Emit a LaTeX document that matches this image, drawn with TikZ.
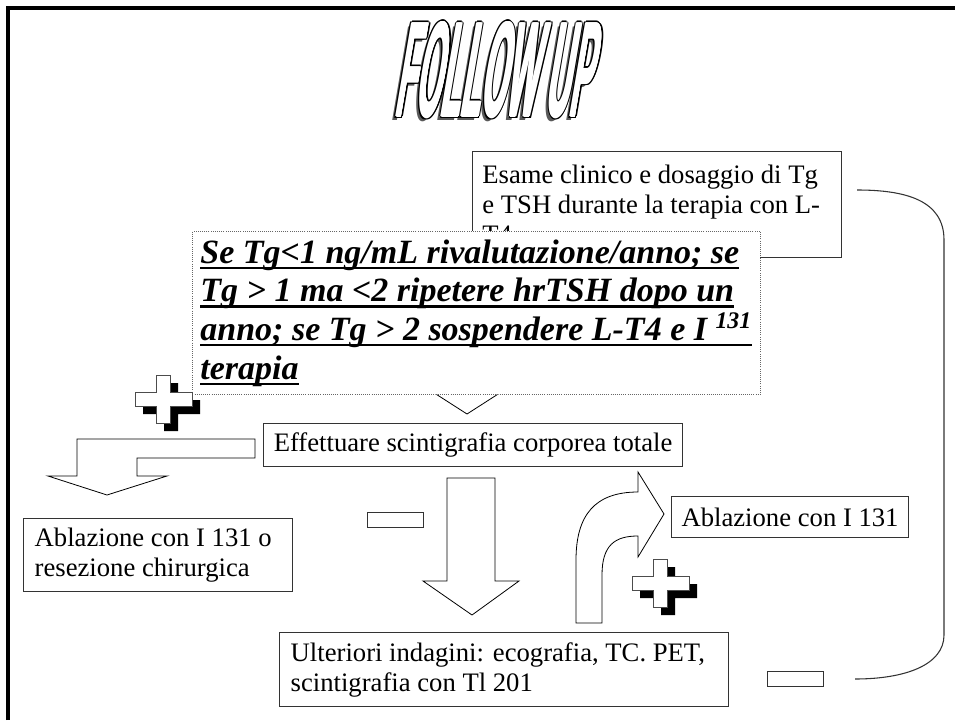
\documentclass[tikz,border=0pt]{standalone}
\usepackage{fontspec}
\setmainfont{Liberation Serif}
\newfontfamily\wordart{Liberation Sans}[FakeStretch=0.24, FakeSlant=0.17]
\newsavebox\ulbox
\newcommand\ulline[1]{\leavevmode\sbox\ulbox{#1}\rlap{\rule[-4.5pt]{\wd\ulbox}{1.8pt}}\usebox\ulbox}
\usetikzlibrary{positioning, calc}

\begin{document}
\begin{tikzpicture}[
        x=0.75pt, y=-0.75pt,
        box/.style={draw=black!80, line width=0.8pt, fill=white, inner sep=0pt, anchor=north west, font=\fontsize{20}{22.5}\selectfont},
        note/.style={draw=black!60, densely dotted, line width=0.6pt, fill=white, inner sep=0pt, anchor=north west, font=\fontsize{25.5}{29}\selectfont\bfseries\itshape},
        blockarrow/.style={draw=black, line width=0.6pt, fill=white, line join=miter},
        minusbox/.style={draw=black!80, line width=0.8pt, fill=white, anchor=north west, minimum width=42pt, minimum height=11.25pt, inner sep=0pt},
        titletext/.style={font=\wordart\bfseries\fontsize{102}{102}\selectfont, inner sep=0pt},
        plussign/.pic={
            \fill[black] (1,-16) -- (15,-16) -- (15,1) -- (37,1) -- (37,15) -- (15,15) -- (15,32) -- (1,32) -- (1,15) -- (-20,15) -- (-20,1) -- (1,1) -- cycle;
            \draw[black!70, line width=0.6pt, fill=white] (-7,-24) -- (7,-24) -- (7,-7) -- (29,-7) -- (29,7) -- (7,7) -- (7,24) -- (-7,24) -- (-7,7) -- (-28,7) -- (-28,-7) -- (-7,-7) -- cycle;
        }
    ]
    \useasboundingbox (0,0) rectangle (955,720);

    % Frame
    \draw[line width=2.4pt] (8,720) -- (8,8) -- (955,8);

    % Title
    \coordinate (tc) at (492,70);
    \node[titletext, text=black!65] (tshadow) at ([shift={(-2.8pt,-2.4pt)}]tc) {FOLLOW UP};
    \foreach \a in {0,45,...,315}
        \node[titletext, text=black] (tout\a) at ([shift={(\a:1.5pt)}]tc) {FOLLOW UP};
    \foreach \a in {0,90,180,270}
        \node[titletext, text=white] (tin\a) at ([shift={(\a:0.6pt)}]tc) {FOLLOW UP};
    \node[titletext, text=white] (title) at (tc) {FOLLOW UP};

    % Check during therapy
    \node[box, minimum width=276.75pt, minimum height=79.5pt, text width=262pt, align=flush left] (esame) at (472,151)
        {\mbox{Esame clinico e dosaggio di Tg}\\\mbox{e TSH durante la terapia con L-}\\\mbox{T4}};

    % arrow under the note
    \draw[blockarrow] (452,250) -- (484,250) -- (484,380) -- (520,380) -- (467,414) -- (414,380) -- (452,380) -- cycle;

    % Tg thresholds
    \node[note, minimum width=426pt, minimum height=122.25pt, text width=414pt, align=flush left] (rule) at (192,231)
        {\ulline{Se Tg<1 ng/mL rivalutazione/anno; se}\\
         \ulline{Tg > 1 ma <2 ripetere hrTSH dopo un}\\
         \ulline{anno; se Tg > 2 sospendere L-T4 e I \textsuperscript{131}}\\
         \ulline{terapia}};

    % Positive branch (left)
    \pic (plusA) at (163,399) {plussign};
    \draw[blockarrow] (255,439) -- (77,439) -- (77,476) -- (48,476) -- (107,495) -- (167,476) -- (137,476) -- (137,458) -- (255,458) -- cycle;

    % Whole body scan
    \node[box, minimum width=314.25pt, minimum height=32.25pt] (scint) at (263,423) {Effettuare scintigrafia corporea totale};

    % Negative branch (down)
    \draw[blockarrow] (447,478) -- (495,478) -- (495,581) -- (519,581) -- (472,615) -- (423,581) -- (447,581) -- cycle;
    \node[minusbox] (minusA) at (367,512) {};

    % Bent arrow up to ablation
    \draw[blockarrow] (576,623) -- (576,560) .. controls (576,515) and (595,492) .. (638,492) -- (638,472) -- (664,514) -- (638,557) -- (638,536) .. controls (615,536) and (602,545) .. (602,575) -- (602,623) -- cycle;
    \pic (plusB) at (660,583) {plussign};

    % Outcomes
    \node[box, minimum width=177.75pt, minimum height=30.75pt] (abl) at (671,496) {Ablazione con I 131};
    \node[box, minimum width=201.75pt, minimum height=54.75pt, text width=185pt, align=flush left] (ablres) at (23,518)
        {\mbox{Ablazione con I 131 o}\\\mbox{resezione chirurgica}};
    \node[box, minimum width=336.75pt, minimum height=55.5pt, text width=320pt, align=flush left] (indag) at (279,632)
        {\mbox{Ulteriori indagini: ecografia, TC. PET,}\\\mbox{scintigrafia con Tl 201}};
    \node[minusbox] (minusB) at (767,671) {};

    % Loop back
    \coordinate (bstart) at (857,190);
    \coordinate (bend) at (855,679);
    \draw[black!80, line width=0.8pt] (bstart) .. controls (905,190) and (944,200) .. (944,240) -- (944,635) .. controls (944,665) and (905,679) .. (bend);

\end{tikzpicture}
\end{document}
